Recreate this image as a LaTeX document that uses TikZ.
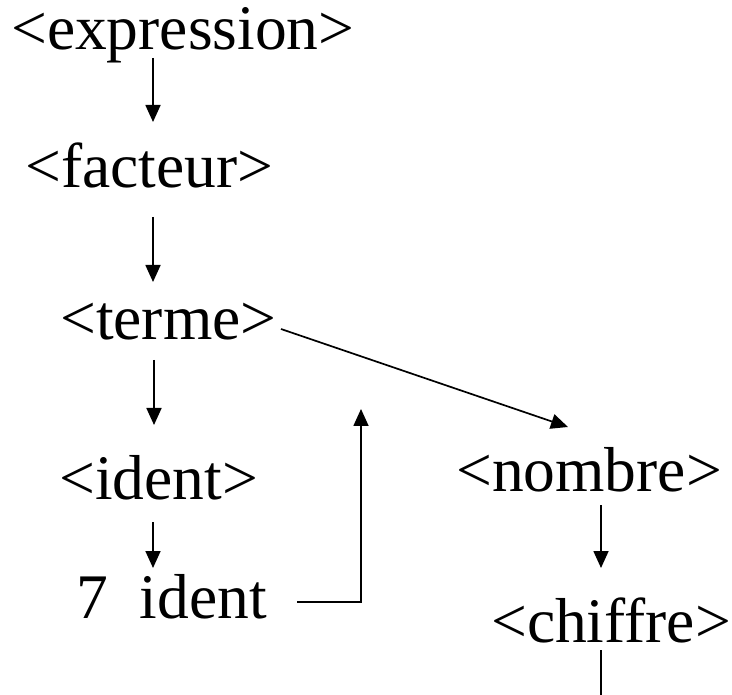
\documentclass[tikz,border=0pt]{standalone}
\usepackage{fontspec}
\setmainfont{Liberation Serif}
\usetikzlibrary{arrows.meta,calc}
\tikzset{
  lbl/.style={anchor=base west,inner sep=0pt,font=\fontsize{63.5}{75}\selectfont},
  conn/.style={line width=1.7pt},
  arr/.style={conn,-{Triangle[length=17pt,width=15pt]}}
}
\begin{document}
\begin{tikzpicture}[x=1pt,y=-1pt]
\useasboundingbox (0,0) rectangle (732,695);
\node[lbl] (expr) at (11,50) {<expression>};
\node[lbl] (fact) at (25,188) {<facteur>};
\node[lbl] (terme) at (60,340) {<terme>};
\node[lbl] (ident) at (59,500) {<ident>};
\node[lbl] (seven) at (76,618) {7\hspace{0.5em}ident};
\node[lbl] (nombre) at (456,492) {<nombre>};
\node[lbl] (chiffre) at (491,642) {<chiffre>};
\coordinate (bottom) at (601,700);
\draw[arr] ($(expr.base west)+(142,8)$) -- ($(fact.base west)+(128,-66)$);
\draw[arr] ($(fact.base west)+(128,29)$) -- ($(terme.base west)+(93,-58)$);
\draw[arr] ($(terme.base west)+(94,20)$) -- ($(ident.base west)+(95,-75)$);
\draw[arr] ($(ident.base west)+(94,22)$) -- ($(seven.base west)+(77,-50)$);
\draw[arr] ($(terme.base west)+(221,-11)$) -- ($(nombre.base west)+(112,-65)$);
\draw[arr] ($(seven.base west)+(221,-16)$) -- ++(64,0) -- ++(0,-193);
\draw[arr] ($(nombre.base west)+(145,13)$) -- ($(chiffre.base west)+(110,-74)$);
\draw[conn] ($(chiffre.base west)+(110,8)$) -- (bottom);
\end{tikzpicture}
\end{document}
